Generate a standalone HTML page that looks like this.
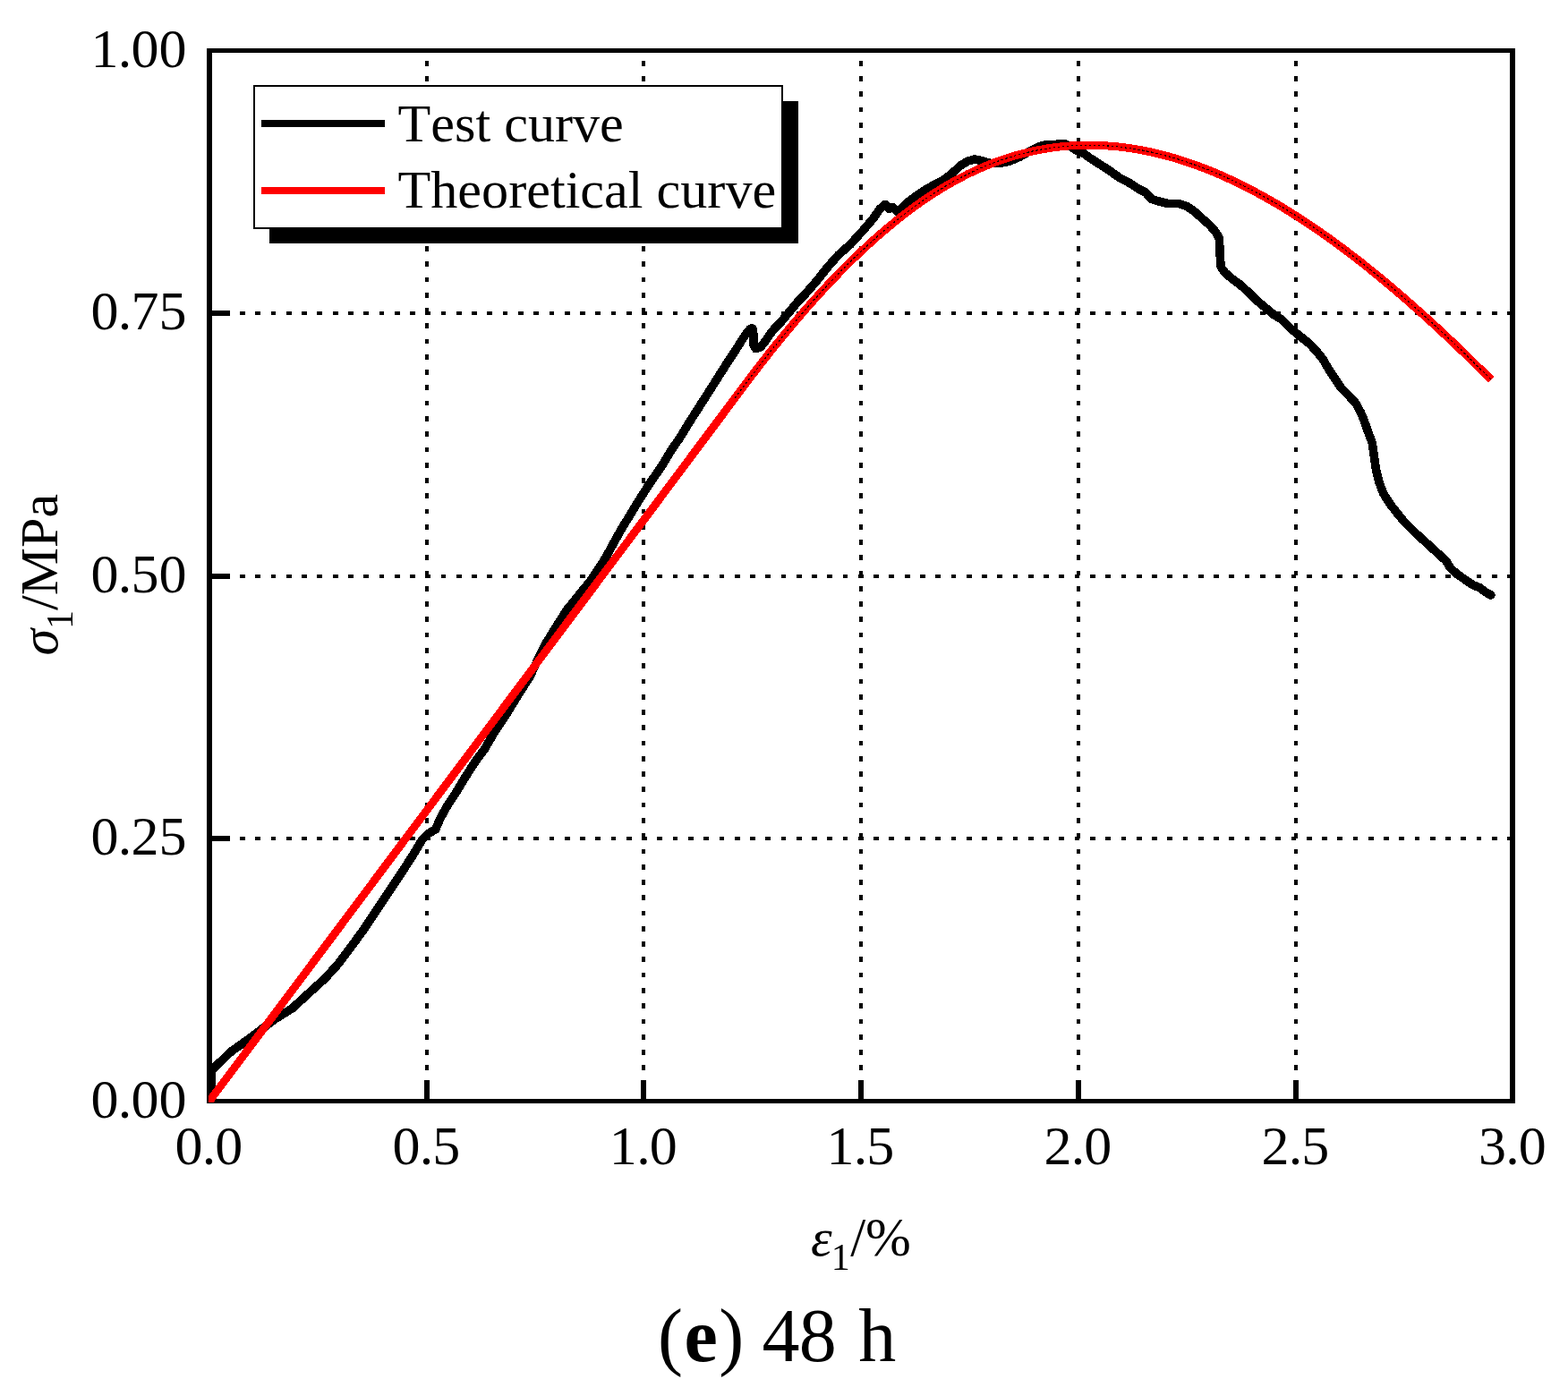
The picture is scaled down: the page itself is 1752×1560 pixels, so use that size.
<!DOCTYPE html>
<html lang="en"><head><meta charset="utf-8"><title>(e) 48 h</title>
<style>html,body{margin:0;padding:0;background:#fff}body{width:1752px;height:1560px;overflow:hidden}svg{display:block}text{font-kerning:none;font-family:'Liberation Serif',serif;fill:#000}</style></head><body>
<svg width="1752" height="1560" viewBox="0 0 1752 1560">
<rect width="1752" height="1560" fill="#fff"/>
<g stroke="#000" stroke-width="4" fill="none" shape-rendering="crispEdges" stroke-dasharray="5.75 11.52">
<path d="M477,1230.6V57"/>
<path d="M719,1230.6V57"/>
<path d="M962,1230.6V57"/>
<path d="M1205,1230.6V57"/>
<path d="M1448,1230.6V57"/>
<path d="M233.6,937H1690"/>
<path d="M233.6,644H1690"/>
<path d="M233.6,350H1690"/>
</g>
<g fill="#000">
<rect x="231" y="54" width="1462" height="5"/>
<rect x="231" y="1228" width="1462" height="5"/>
<rect x="231" y="54" width="6" height="1179"/>
<rect x="1687" y="54" width="6" height="1179"/>
<rect x="474" y="1207" width="6" height="22"/>
<rect x="716" y="1207" width="6" height="22"/>
<rect x="959" y="1207" width="6" height="22"/>
<rect x="1202" y="1207" width="6" height="22"/>
<rect x="1445" y="1207" width="6" height="22"/>
<rect x="236" y="934" width="21" height="6"/>
<rect x="236" y="641" width="21" height="6"/>
<rect x="236" y="347" width="21" height="6"/>
</g>
<clipPath id="plot"><rect x="233" y="56" width="1458" height="1176"/></clipPath>
<g clip-path="url(#plot)" fill="none" stroke-linejoin="round" shape-rendering="crispEdges">
<path d="M236.5,1230.0 236.5,1197.0 238.3,1194.2 258.3,1175.0 278.3,1160.8 306.7,1139.2 326.7,1126.7 346.7,1108.3 363.3,1093.3 378.3,1076.7 393.3,1056.7 406.7,1038.3 420.0,1018.3 433.3,998.3 450.0,973.3 461.7,955.0 471.7,938.3 478.3,931.7 486.7,926.7 491.7,915.0 500.0,900.0 510.0,885.0 520.0,868.3 531.7,850.0 541.7,836.7 553.3,816.7 566.7,796.7 580.0,775.0 591.7,756.7 608.3,721.7 621.7,700.0 633.3,681.7 646.7,665.0 659.5,649.5 676.2,624.1 693.8,592.1 707.4,570.0 713.4,560.0 726.2,539.9 740.0,520.0 750.0,503.1 759.0,490.3 769.2,473.6 778.2,459.5 787.2,445.4 796.2,431.3 805.1,417.2 814.1,403.1 821.8,391.5 828.2,381.3 833.3,373.6 838.5,367.2 841.0,367.2 842.0,374.9 842.0,385.1 844.2,389.6 850.0,387.7 855.1,381.3 860.3,373.6 865.4,367.2 871.8,360.8 878.2,353.1 884.6,345.4 891.0,337.7 897.4,331.3 911.7,315.0 925.0,298.3 936.7,285.0 950.0,273.3 965.0,256.7 975.0,245.0 983.3,233.3 989.2,228.3 993.3,233.3 997.5,231.7 1003.3,236.7 1013.3,226.7 1023.3,219.2 1033.3,212.5 1043.3,206.7 1053.3,201.7 1063.3,194.2 1073.3,185.0 1081.7,180.0 1089.2,178.0 1098.3,180.0 1106.7,182.5 1116.7,182.5 1128.3,180.0 1140.0,175.0 1150.0,169.2 1160.0,164.2 1170.0,161.3 1180.0,161.3 1190.0,161.0 1196.7,164.2 1203.3,168.3 1210.0,170.8 1216.7,175.8 1228.3,183.3 1240.0,190.8 1251.7,199.2 1261.7,204.2 1271.7,210.8 1280.0,215.0 1286.7,222.5 1295.0,225.0 1305.0,227.5 1316.7,227.5 1326.7,230.8 1335.0,236.7 1343.3,244.2 1351.7,251.7 1358.3,259.2 1362.5,266.7 1363.0,283.3 1364.2,298.3 1368.3,304.2 1376.7,311.7 1385.0,317.5 1393.3,325.0 1403.3,335.0 1413.3,343.3 1423.3,351.7 1431.7,356.7 1441.7,366.7 1451.7,375.0 1463.3,384.2 1471.7,393.3 1478.3,401.7 1485.0,413.3 1491.7,423.3 1498.3,433.3 1506.7,441.7 1515.0,450.8 1520.8,461.7 1524.2,470.0 1528.3,481.7 1533.3,495.0 1535.3,510.0 1537.5,525.0 1540.8,538.3 1545.8,551.7 1553.3,563.3 1561.7,574.2 1570.0,584.2 1578.3,592.5 1588.3,601.7 1598.3,610.8 1608.3,620.0 1615.8,626.7 1620.8,635.0 1628.3,641.7 1636.7,647.5 1645.0,653.3 1653.3,656.7 1660.0,661.7 1665.8,665.0" stroke="#000" stroke-width="9.6" stroke-linecap="round"/>
<path d="M225.0,1242.5 830.0,433.0 836.0,425.0 842.0,417.1 848.0,409.3 854.0,401.6 860.0,394.0 866.0,386.5 872.0,379.1 878.0,371.8 884.0,364.6 890.0,357.5 896.0,350.5 902.0,343.6 908.0,336.8 914.0,330.2 920.0,323.6 926.0,317.2 932.0,310.9 938.0,304.7 944.0,298.6 950.0,292.6 956.0,286.8 962.0,281.1 968.0,275.5 974.0,270.0 980.0,264.6 986.0,259.4 992.0,254.3 998.0,249.4 1004.0,244.5 1010.0,239.8 1016.0,235.3 1022.0,230.8 1028.0,226.5 1034.0,222.4 1040.0,218.4 1046.0,214.5 1052.0,210.8 1058.0,207.2 1064.0,203.7 1070.0,200.4 1076.0,197.3 1082.0,194.2 1088.0,191.4 1094.0,188.6 1100.0,186.1 1106.0,183.6 1112.0,181.3 1118.0,179.1 1124.0,177.1 1130.0,175.2 1136.0,173.4 1142.0,171.8 1148.0,170.3 1154.0,168.9 1160.0,167.7 1166.0,166.6 1172.0,165.6 1178.0,164.7 1184.0,164.0 1190.0,163.4 1196.0,162.9 1202.0,162.6 1208.0,162.3 1214.0,162.2 1220.0,162.2 1226.0,162.4 1232.0,162.6 1238.0,163.0 1244.0,163.5 1250.0,164.0 1256.0,164.8 1262.0,165.6 1268.0,166.5 1274.0,167.5 1280.0,168.7 1286.0,169.9 1292.0,171.3 1298.0,172.8 1304.0,174.4 1310.0,176.0 1316.0,177.8 1322.0,179.7 1328.0,181.7 1334.0,183.8 1340.0,186.0 1346.0,188.3 1352.0,190.6 1358.0,193.1 1364.0,195.7 1370.0,198.4 1376.0,201.1 1382.0,204.0 1388.0,206.9 1394.0,209.9 1400.0,213.1 1406.0,216.3 1412.0,219.6 1418.0,222.9 1424.0,226.4 1430.0,229.9 1436.0,233.6 1442.0,237.3 1448.0,241.1 1454.0,244.9 1460.0,248.9 1466.0,252.9 1472.0,257.0 1478.0,261.2 1484.0,265.4 1490.0,269.8 1496.0,274.2 1502.0,278.6 1508.0,283.2 1514.0,287.8 1520.0,292.4 1526.0,297.2 1532.0,302.0 1538.0,306.9 1544.0,311.8 1550.0,316.8 1556.0,321.8 1562.0,327.0 1568.0,332.1 1574.0,337.4 1580.0,342.7 1586.0,348.0 1592.0,353.4 1598.0,358.9 1604.0,364.4 1610.0,369.9 1616.0,375.6 1622.0,381.2 1628.0,386.9 1634.0,392.7 1640.0,398.5 1646.0,404.4 1652.0,410.3 1658.0,416.2 1664.0,422.2 1666.0,424.2" stroke="#f00" stroke-width="8.9"/>
<path d="M821.0,445.1 830.0,433.0 836.0,425.0 842.0,417.1 848.0,409.3 854.0,401.6 860.0,394.0 866.0,386.5 872.0,379.1 878.0,371.8 884.0,364.6 890.0,357.5 896.0,350.5 902.0,343.6 908.0,336.8 914.0,330.2 920.0,323.6 926.0,317.2 932.0,310.9 938.0,304.7 944.0,298.6 950.0,292.6 956.0,286.8 962.0,281.1 968.0,275.5 974.0,270.0 980.0,264.6 986.0,259.4 992.0,254.3 998.0,249.4 1004.0,244.5 1010.0,239.8 1016.0,235.3 1022.0,230.8 1028.0,226.5 1034.0,222.4 1040.0,218.4 1046.0,214.5 1052.0,210.8 1058.0,207.2 1064.0,203.7 1070.0,200.4 1076.0,197.3 1082.0,194.2 1088.0,191.4 1094.0,188.6 1100.0,186.1 1106.0,183.6 1112.0,181.3 1118.0,179.1 1124.0,177.1 1130.0,175.2 1136.0,173.4 1142.0,171.8 1148.0,170.3 1154.0,168.9 1160.0,167.7 1166.0,166.6 1172.0,165.6 1178.0,164.7 1184.0,164.0 1190.0,163.4 1196.0,162.9 1202.0,162.6 1208.0,162.3 1214.0,162.2 1220.0,162.2 1226.0,162.4 1232.0,162.6 1238.0,163.0 1244.0,163.5 1250.0,164.0 1256.0,164.8 1262.0,165.6 1268.0,166.5 1274.0,167.5 1280.0,168.7 1286.0,169.9 1292.0,171.3 1298.0,172.8 1304.0,174.4 1310.0,176.0 1316.0,177.8 1322.0,179.7 1328.0,181.7 1334.0,183.8 1340.0,186.0 1346.0,188.3 1352.0,190.6 1358.0,193.1 1364.0,195.7 1370.0,198.4 1376.0,201.1 1382.0,204.0 1388.0,206.9 1394.0,209.9 1400.0,213.1 1406.0,216.3 1412.0,219.6 1418.0,222.9 1424.0,226.4 1430.0,229.9 1436.0,233.6 1442.0,237.3 1448.0,241.1 1454.0,244.9 1460.0,248.9 1466.0,252.9 1472.0,257.0 1478.0,261.2 1484.0,265.4 1490.0,269.8 1496.0,274.2 1502.0,278.6 1508.0,283.2 1514.0,287.8 1520.0,292.4 1526.0,297.2 1532.0,302.0 1538.0,306.9 1544.0,311.8 1550.0,316.8 1556.0,321.8 1562.0,327.0 1568.0,332.1 1574.0,337.4 1580.0,342.7 1586.0,348.0 1592.0,353.4 1598.0,358.9 1604.0,364.4 1610.0,369.9 1616.0,375.6 1622.0,381.2 1628.0,386.9 1634.0,392.7 1640.0,398.5 1646.0,404.4 1652.0,410.3 1658.0,416.2 1664.0,422.2 1666.0,424.2" stroke="#000" stroke-width="1.1" stroke-dasharray="2.5 2.5"/>
</g>
<rect x="301" y="113" width="591" height="159" fill="#000"/>
<rect x="284" y="96" width="590" height="159" fill="#fff" stroke="#000" stroke-width="2"/>
<rect x="292" y="134" width="138" height="8" fill="#000"/>
<rect x="292" y="209" width="138" height="8" fill="#f00"/>
<text x="444.5" y="157.5" font-size="60.2">Test curve</text>
<text x="444.5" y="232" font-size="60.2">Theoretical curve</text>
<text x="101.5 131.75 146.55 177.5" y="1248.5" font-size="62">0.00</text>
<text x="101.5 131.75 146.55 177.5" y="955.0" font-size="62">0.25</text>
<text x="101.5 131.75 146.55 177.5" y="662.0" font-size="62">0.50</text>
<text x="101.5 131.75 146.55 177.5" y="368.0" font-size="62">0.75</text>
<text x="101.5 131.75 146.55 177.5" y="74.5" font-size="62">1.00</text>
<text x="195.50 225.85 240.37" y="1301.2" font-size="62">0.0</text>
<text x="438.50 468.85 483.37" y="1301.2" font-size="62">0.5</text>
<text x="680.80 711.15 725.67" y="1301.2" font-size="62">1.0</text>
<text x="923.50 953.85 968.37" y="1301.2" font-size="62">1.5</text>
<text x="1166.50 1196.85 1211.37" y="1301.2" font-size="62">2.0</text>
<text x="1409.50 1439.85 1454.37" y="1301.2" font-size="62">2.5</text>
<text x="1652.00 1682.35 1696.87" y="1301.2" font-size="62">3.0</text>
<text y="1403" font-size="60"><tspan x="906" font-style="italic">ε</tspan><tspan x="928.8" y="1418.8" font-size="42">1</tspan><tspan x="950.2 966.9" y="1403" font-size="61">/%</tspan></text>
<text transform="translate(64,732.6) rotate(-90)" font-size="60"><tspan font-style="italic">σ</tspan><tspan font-size="42" dy="16.5">1</tspan><tspan dy="-16.5">/MPa</tspan></text>
<text y="1520.5" font-size="84"><tspan x="735.1">(</tspan><tspan x="764.5" font-weight="bold">e</tspan><tspan x="803.3">)</tspan><tspan x="830"> </tspan><tspan x="851.6 892.8">48</tspan><tspan x="936"> </tspan><tspan x="959.2">h</tspan></text>
</svg></body></html>
